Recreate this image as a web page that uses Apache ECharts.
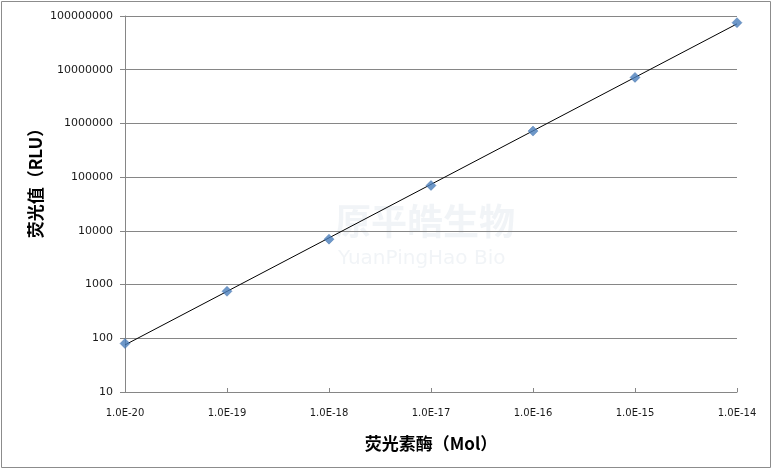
<!DOCTYPE html>
<html><head><meta charset="utf-8">
<script src="https://cdn.jsdelivr.net/npm/echarts@6/dist/echarts.min.js"></script>
<style>html,body{margin:0;padding:0;background:#fff}#c{width:774px;height:474px}</style>
</head><body><div id="c"></div>
<script>
// Data
const amounts = [1e-20, 1e-19, 1e-18, 1e-17, 1e-16, 1e-15, 1e-14];
const rluValues = [80, 750, 7000, 70000, 720000, 7200000, 75000000];
const xTitle = '荧光素酶（Mol）';
const yTitle = '荧光值（RLU）';

// Power trendline (least squares in log-log space)
const lx = amounts.map(v => Math.log10(v)), ly = rluValues.map(v => Math.log10(v));
const n = lx.length, mx = lx.reduce((a,b)=>a+b)/n, my = ly.reduce((a,b)=>a+b)/n;
let sxy = 0, sxx = 0;
for (let i = 0; i < n; i++) { sxy += (lx[i]-mx)*(ly[i]-my); sxx += (lx[i]-mx)*(lx[i]-mx); }
const slope = sxy/sxx, icpt = my - slope*mx;
const trendX = [amounts[0], amounts[n-1]];
const trend = trendX.map(x => [x, Math.pow(10, icpt + slope*Math.log10(x))]);

const chart = echarts.init(document.getElementById('c'));
const labelFont = {fontFamily: 'DejaVu Sans', color: '#1a1a1a'};
const wm = 'rgba(205,214,226,0.28)';
chart.setOption({
  animation: false,
  backgroundColor: '#fff',
  grid: {left: 125, right: 37, top: 16, bottom: 82},
  graphic: [
    {type: 'rect', shape: {x: 1.5, y: 1.5, width: 769, height: 466}, style: {fill: 'none', stroke: '#8c8c8c', lineWidth: 1}, z: -10},
    {type: 'text', x: 36, y: 179, rotation: Math.PI / 2,
     style: {text: yTitle, fontSize: 17, fontWeight: 'bold', fontFamily: 'Noto Sans CJK SC', fill: '#000', align: 'center', verticalAlign: 'middle'}},
    {type: 'text', left: 335, top: 203, style: {text: '原平皓生物', fontSize: 36, fontWeight: 'bold', fontFamily: 'Noto Sans CJK SC', fill: wm}, z: -5},
    {type: 'text', left: 338, top: 249, style: {text: 'YuanPingHao Bio', fontSize: 20, fontFamily: 'DejaVu Sans', fill: wm}, z: -5}
  ],
  xAxis: {
    type: 'log', logBase: 10, min: 1e-20, max: 1e-14, splitNumber: 6,
    name: xTitle, nameLocation: 'middle', nameGap: 43,
    nameTextStyle: {fontFamily: 'Noto Sans CJK SC', fontSize: 17, fontWeight: 'bold', color: '#000'},
    axisLine: {lineStyle: {color: '#868686', width: 1}},
    axisTick: {inside: true, length: 4, lineStyle: {color: '#868686'}},
    axisLabel: Object.assign({fontSize: 10, margin: 16, formatter: v => '1.0E' + Math.round(Math.log10(v))}, labelFont),
    splitLine: {show: false}, minorTick: {show: false}
  },
  yAxis: {
    type: 'log', logBase: 10, min: 10, max: 1e8, splitNumber: 7,
    axisLine: {show: true, lineStyle: {color: '#868686', width: 1}},
    axisTick: {show: true, inside: false, length: 5, lineStyle: {color: '#868686'}},
    axisLabel: Object.assign({fontSize: 11, margin: 12, formatter: v => String(Math.round(v))}, labelFont),
    splitLine: {show: true, lineStyle: {color: '#868686', width: 1}}
  },
  series: [
    {type: 'line', data: trend, symbol: 'none', lineStyle: {color: '#000', width: 1}, z: 3, silent: true},
    {type: 'scatter', data: amounts.map((x,i)=>[x, rluValues[i]]), symbol: 'diamond', symbolSize: 10,
     itemStyle: {color: '#4a7ebb', borderColor: '#3a6aa5', borderWidth: 0.5}, z: 4}
  ]
});
</script></body></html>
